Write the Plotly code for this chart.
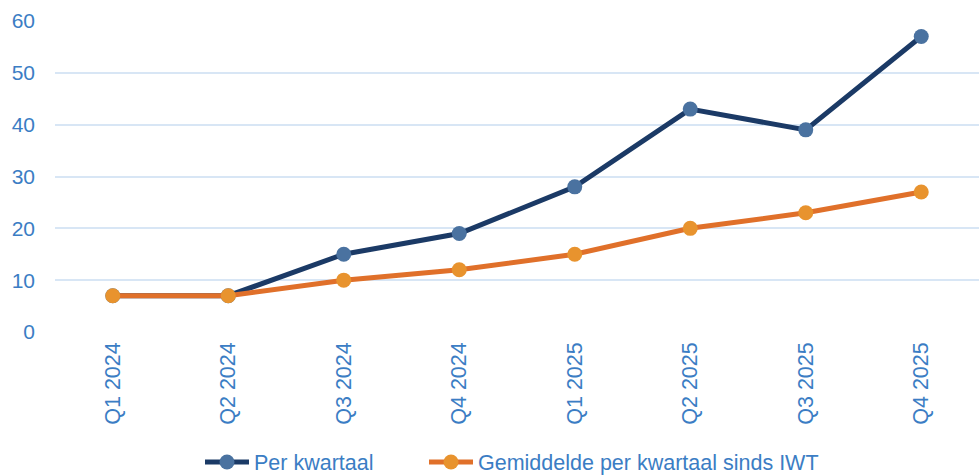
import plotly.graph_objects as go

categories = ["Q1 2024", "Q2 2024", "Q3 2024", "Q4 2024", "Q1 2025", "Q2 2025", "Q3 2025", "Q4 2025"]
per_kwartaal = [7, 7, 15, 19, 28, 43, 39, 57]
gemiddelde = [7, 7, 10, 12, 15, 20, 23, 27]
y_ticks = [0, 10, 20, 30, 40, 50, 60]

text_color = "#3B7DC4"
font_family = "Liberation Sans, Arial, sans-serif"
PLOT_L, PLOT_W = 55, 924

fig = go.Figure()
fig.add_trace(go.Scatter(
    x=categories, y=per_kwartaal, mode="lines+markers", name="Per kwartaal",
    line=dict(color="#1B3A66", width=5),
    marker=dict(color="#4A72A0", size=15),
    legend="legend",
))
fig.add_trace(go.Scatter(
    x=categories, y=gemiddelde, mode="lines+markers", name="Gemiddelde per kwartaal sinds IWT",
    line=dict(color="#E0702A", width=5),
    marker=dict(color="#E8932E", size=15),
    legend="legend2",
))

legend_common = dict(orientation="h", xanchor="left", y=-0.418, yanchor="middle",
                     font=dict(size=21.5, color=text_color), itemwidth=44,
                     bgcolor="rgba(0,0,0,0)", borderwidth=0)

fig.update_layout(
    width=979, height=475,
    margin=dict(l=55, r=0, t=21, b=143, autoexpand=False),
    paper_bgcolor="white", plot_bgcolor="white",
    font=dict(family=font_family, color=text_color, size=21),
    showlegend=True,
    legend=dict(x=(200 - PLOT_L) / PLOT_W, **legend_common),
    legend2=dict(x=(424 - PLOT_L) / PLOT_W, **legend_common),
    xaxis=dict(type="category", range=[-0.5, 7.5], tickangle=-90, showgrid=False, automargin=False,
               showline=False, zeroline=False, ticks="", ticklabelstandoff=5,
               tickfont=dict(size=21.5, color=text_color)),
    yaxis=dict(range=[0, 60], tickvals=y_ticks, showgrid=True, gridcolor="#D8E6F5", gridwidth=1.5,
               automargin=False, zeroline=False, showline=False, ticks="", ticklabelstandoff=19,
               tickfont=dict(size=21, color=text_color)),
)

fig.write_html(
    "out.html",
    config={"displayModeBar": False},
    post_script="document.body.style.margin='0';document.body.style.padding='0';document.body.style.overflow='hidden';",
)
